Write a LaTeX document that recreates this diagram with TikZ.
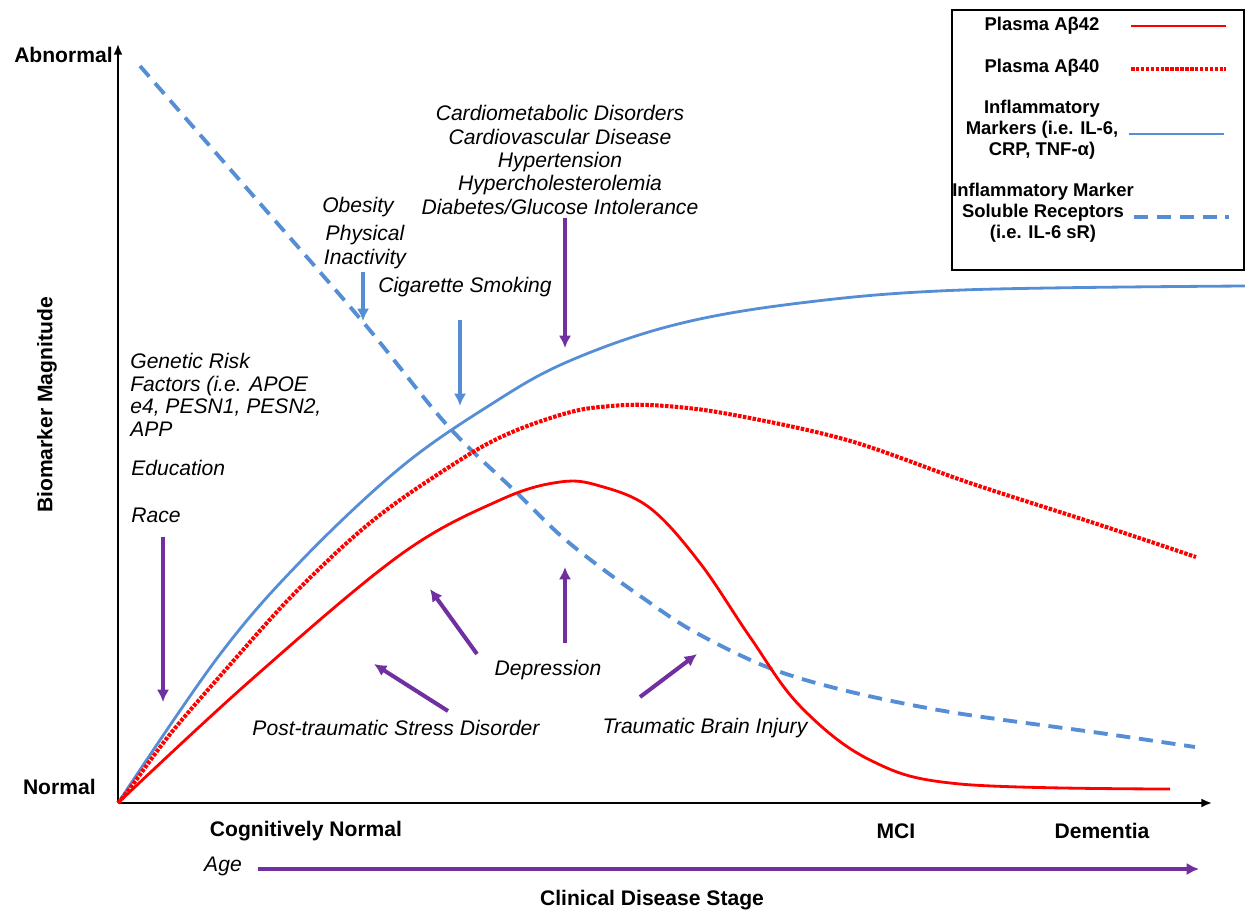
\documentclass[tikz,border=0pt]{standalone}
\usepackage{fontspec}
\setmainfont{Liberation Sans}
\usetikzlibrary{arrows.meta}

\definecolor{abred}{RGB}{255,0,0}
\definecolor{inflblue}{RGB}{85,142,213}
\definecolor{riskpurple}{RGB}{112,48,160}

\tikzset{
  lbl/.style={font=\fontsize{12}{13}\selectfont\bfseries, inner sep=0pt},
  risk/.style={font=\fontsize{12}{13.3}\selectfont\itshape, align=center, inner sep=0pt},
  legtxt/.style={font=\fontsize{10.5}{12}\selectfont\bfseries, align=center, inner sep=0pt},
  ab42/.style={abred, line width=1.6pt},
  ab40/.style={abred, line width=2.3pt, dash pattern=on 2pt off 0.8pt},
  infl/.style={inflblue, line width=1.6pt},
  solrec/.style={inflblue, line width=2.2pt, dash pattern=on 8pt off 5pt},
  purplearrow/.style={->, riskpurple, line width=2.3pt},
  bluearrow/.style={->, inflblue, line width=2.3pt},
}

\begin{document}
\begin{tikzpicture}[>={Latex[length=7pt,width=7pt]}, x=0.02cm, y=-0.02cm]
\useasboundingbox (0,0) rectangle (1245,914);

% Eixos
\coordinate (origem) at (118,803);
\coordinate (topo) at (118,44);
\coordinate (fim) at (1212,803);
\draw[-{Latex[length=6pt,width=5pt]}, line width=1.1pt] (origem) -- (topo);
\draw[-{Latex[length=6pt,width=5pt]}, line width=1.1pt] (origem) -- (fim);
\node[lbl, anchor=east] (abnormal) at (113,55) {Abnormal};
\node[lbl, anchor=east] (normal) at (96,787) {Normal};
\node[lbl, rotate=90] (magnitude) at (47,405) {Biomarker Magnitude};

% Estagios
\node[lbl] (cogn) at (306,831) {Cognitively Normal};
\node[lbl] (mci) at (896,831) {MCI};
\node[lbl] (dementia) at (1102,831) {Dementia};
\node[risk] (age) at (223,866) {Age};
\node[lbl] (stage) at (652,900) {Clinical Disease Stage};
\coordinate (ageA) at (258,869);
\coordinate (ageB) at (1199,869);
\draw[purplearrow] (ageA) -- (ageB);

% Curvas
\draw[solrec] plot[smooth, tension=0.55] coordinates {(140,66) (250,192) (363,322) (447,425) (517,493) (560,535) (600,567) (643,598) (693,631) (767,667) (843,690) (950,712) (1100,733) (1195,747)};
\draw[infl] plot[smooth, tension=0.6] coordinates {(118,803) (218,657) (300,562) (400,468) (490,405) (567,362) (674,325) (800,303) (962,290) (1245,286)};
\draw[ab40] plot[smooth, tension=0.55] coordinates {(118,803) (131,787) (171,733) (228,667) (288,600) (350,540) (400,500) (473,452) (517,430) (567,413) (600,407) (649,405) (723,413) (847,440) (970,483) (1094,523) (1196,557)};
\draw[ab42] plot[smooth, tension=0.6] coordinates {(118,803) (251,680) (400,555) (500,500) (560,482) (600,486) (650,508) (700,563) (750,637) (800,706) (870,760) (960,784) (1170,789)};

% Fatores de risco
\node[risk] (obesity) at (358,207) {Obesity};
\node[risk] (inactivity) at (365,247) {Physical\\Inactivity};
\node[risk] (smoking) at (465,287) {Cigarette Smoking};
\node[risk] (cardio) at (560,160) {Cardiometabolic Disorders\\Cardiovascular Disease\\Hypertension\\Hypercholesterolemia\\Diabetes/Glucose Intolerance};
\node[risk, align=left, anchor=north west, font=\fontsize{12}{12.8}\selectfont\itshape] (genetic) at (130,353) {Genetic Risk\\Factors (i.e. APOE\\e4, PESN1, PESN2,\\APP};
\node[risk, anchor=west] (education) at (131,468) {Education};
\node[risk, anchor=west] (race) at (131,515) {Race};
\node[risk] (depression) at (548,670) {Depression};
\node[risk] (ptsd) at (396,728) {Post-traumatic Stress Disorder};
\node[risk] (tbi) at (705,728) {Traumatic Brain Injury};

% Setas
\coordinate (raceA) at (163,537);
\coordinate (raceB) at (163,702);
\coordinate (inactA) at (363,272);
\coordinate (inactB) at (363,321);
\coordinate (smokeA) at (460,320);
\coordinate (smokeB) at (460,406);
\coordinate (cardioA) at (565,218);
\coordinate (cardioB) at (565,348);
\coordinate (depA) at (565,643);
\coordinate (depB) at (565,567);
\coordinate (depC) at (477,654);
\coordinate (depD) at (430,589);
\coordinate (ptsdA) at (448,711);
\coordinate (ptsdB) at (374,664);
\coordinate (tbiA) at (640,697);
\coordinate (tbiB) at (697,654);
\draw[purplearrow] (raceA) -- (raceB);
\draw[bluearrow] (inactA) -- (inactB);
\draw[bluearrow] (smokeA) -- (smokeB);
\draw[purplearrow] (cardioA) -- (cardioB);
\draw[purplearrow] (depA) -- (depB);
\draw[purplearrow] (depC) -- (depD);
\draw[purplearrow] (ptsdA) -- (ptsdB);
\draw[purplearrow] (tbiA) -- (tbiB);

% Legenda
\draw[line width=0.8pt] (952,10) rectangle (1244,270);
\node[legtxt] (leg42) at (1042,26) {Plasma Aβ42};
\node[legtxt] (leg40) at (1042,68) {Plasma Aβ40};
\node[legtxt] (leginfl) at (1042,130) {Inflammatory\\Markers (i.e. IL-6,\\CRP, TNF-α)};
\node[legtxt] (legsr) at (1043,213) {Inflammatory Marker\\Soluble Receptors\\(i.e. IL-6 sR)};
\draw[ab42] (1131,26) -- (1226,26);
\draw[ab40] (1131,69) -- (1226,69);
\draw[infl] (1129,134) -- (1224,134);
\draw[solrec] (1134,217) -- (1229,217);
\end{tikzpicture}
\end{document}
